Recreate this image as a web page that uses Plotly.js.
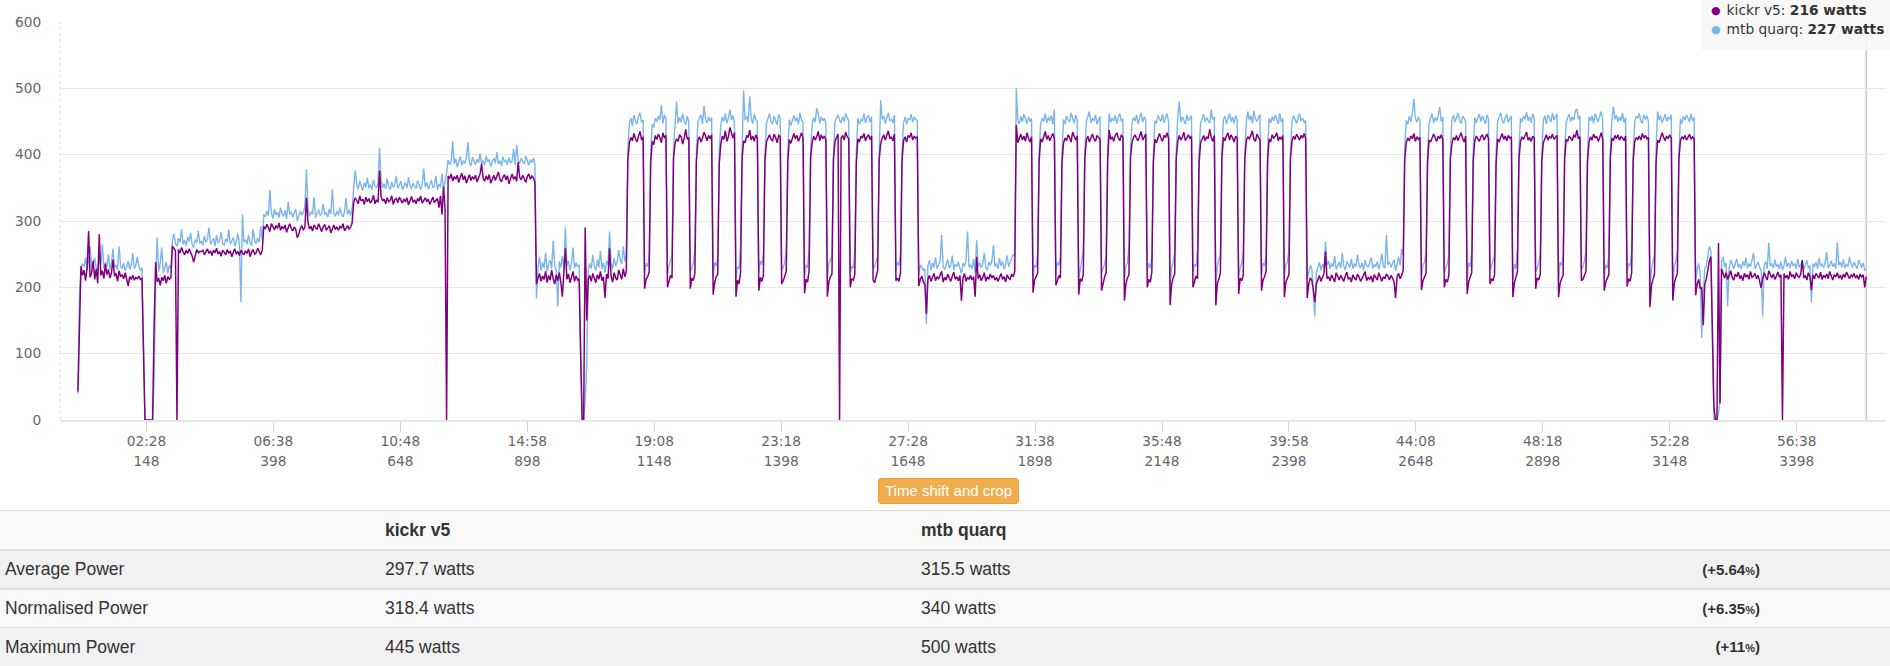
<!DOCTYPE html>
<html>
<head>
<meta charset="utf-8">
<script src="https://cdn.plot.ly/plotly-3.0.1.min.js"></script>
<style>
html,body{margin:0;padding:0;background:#fff;width:1890px;height:666px;overflow:hidden;font-family:"Liberation Sans",Arial,Helvetica,sans-serif;color:#333;}
#chart{position:absolute;left:0;top:0;width:1890px;height:475px;}
#tip{position:absolute;left:1701px;top:-3px;width:200px;height:53px;background:rgba(247,247,247,0.85);font-family:"DejaVu Sans",sans-serif;font-size:13.75px;color:#333;line-height:18.3px;padding-top:4px;box-sizing:border-box;white-space:nowrap;}
#tip .ln{padding-left:10px;}
#tip .dot{font-size:11px;margin-right:6px;vertical-align:1px;}
#btn{position:absolute;left:878px;top:478px;width:141px;height:26px;box-sizing:border-box;background:#f0ad4e;border:1px solid #eea236;border-radius:3px;color:#fff;font-size:15px;line-height:24px;text-align:center;}
.row{position:absolute;left:0;width:1890px;box-sizing:border-box;}
.cell{position:absolute;top:0;white-space:nowrap;font-size:17.5px;}
.diff{position:absolute;top:0;right:130px;font-size:15px;font-weight:bold;white-space:nowrap;}
.diff small{font-size:11px;}
</style>
</head>
<body>
<div id="chart"></div>
<div id="tip"></div>
<div id="btn">Time shift and crop</div>
<div id="stats"></div>
<script>
// ---- sampling of the ride (seconds) ----
const START_SEC = 13;
const STEP_SEC = 3;

// ---- x axis tick labels ----
const tickSeconds = [148, 398, 648, 898, 1148, 1398, 1648, 1898, 2148, 2398, 2648, 2898, 3148, 3398];
const tickClock = ["02:28","06:38","10:48","14:58","19:08","23:18","27:28","31:38","35:48","39:58","44:08","48:18","52:28","56:38"];

// ---- kickr v5 power (watts) ----
const kickrWarmup = [
43,122,232,218,226,210,230,285,215,222,
240,212,228,206,280,218,225,213,235,219,
227,214,222,242,217,221,209,225,216,219,
213,222,214,202,216,212,218,211,215,213,
217,212,214,105,0,0,0,0,0,0,
140,238,208,214,203,215,210,218,206,216,
212,215];
const kickrStep255 = [
262,258,255,0,257,252,260,254,249,256,
251,258,253,247,238,250,257,252,254,254,
256,249,253,258,251,255,248,256,252,259,
250,254,247,256,253,249,257,251,255,246,
253,258,250,254,248,256,252,249,255,251,
258,246,253,257,250,252,259,254,249,256];
const kickrStep290 = [
292,288,295,290,284,296,291,287,293,289,
297,286,292,288,294,283,290,296,289,285,
291,287,275,280,289,293,286,291,335,298,
288,292,285,294,290,287,296,289,284,291,
295,286,290,293,282,289,294,287,291,286,
292,289,296,285,290,293,288,291,297];
const kickrStep330 = [
328,335,331,326,338,330,333,325,336,329,
334,327,331,339,326,332,328,376,337,330,
333,326,335,329,331,338,325,332,334,328,
336,330,327,333,329,335,324,331,337,328,
332,326,334,330,338,327,331,335,329,333,
325,332,336,328,331,334,320,338,310,352,
318];
const kickrStep370 = [
0,368,364,371,360,367,363,369,358,366,
372,362,368,357,365,370,361,367,363,369,
359,366,371,386,364,360,368,362,370,357,
365,369,361,367,374,363,359,366,370,362,
368,356,365,371,363,367,360,389,366,362,
369,364,358,367,371,363,368,365,358];
const kickrRecovery = [
205,214,221,209,217,212,224,207,218,211,
226,213,205,219,210,222,208,186,216,259,
212,220,207,215,224,209,217,211,213,100,
0,0,290,150,212,218,209,221,214,207,
219,212,224,210,216,184,220,213,259,217,
208,222,214,211,226,218,212,228,216,224];
const kickrSet1 = [
392,418,426,421,432,424,419,428,435,422,427,198,212,216,223,
388,420,415,429,423,431,426,418,433,425,429,200,209,218,214,
395,417,424,420,430,427,416,425,438,423,426,198,214,210,221,
390,422,427,419,425,434,428,421,429,424,430,189,207,216,219,
386,415,428,423,436,420,427,441,431,425,433,186,211,205,222,
394,421,418,429,426,437,422,428,420,430,424,195,215,209,218,
391,419,425,430,423,421,431,426,418,429,427,205,210,217,224,
389,423,417,426,432,424,429,420,427,433,425,191,212,208,226,
396,418,428,422,427,435,421,430,424,428,422,186,209,216,220,
393,420,426,431,0,425,429,422,434,427,424,200,213,211,219,
387,424,419,428,425,432,421,427,430,423,428,211,207,216,225,
392,417,425,430,422,428,436,424,427,421,431,210,214,209,222,
390,421,427,419,429,426,433,422,428,425,427,202,212,217,208];
const kickrGap1 = [
205,160,212,218,209,215,221,210,216,213,
219,224,208,215,211,220,214,209,217,223,
212,216,210,218,180,214,221,209,215,212,
218,211,216,186,246,213,219,210,215,222,
209,216,212,220,214,218,211,215,209,217,
221,212,216,208,219,214,212,220,216,224];
const kickrSet2 = [
445,418,426,431,422,428,420,433,425,419,427,192,211,215,221,
390,424,419,428,435,423,429,421,426,432,424,203,210,218,214,
388,417,425,421,430,426,419,434,427,422,428,189,213,209,220,
394,422,428,419,425,431,424,420,429,426,423,195,208,216,222,
391,437,423,427,420,429,433,425,421,430,426,180,206,214,219,
396,419,426,430,424,421,428,435,422,427,431,200,212,208,223,
389,423,418,427,432,425,420,429,426,433,424,173,204,215,220,
393,420,429,422,426,434,421,427,430,424,428,200,209,217,213,
387,418,425,429,421,427,424,438,426,420,429,173,206,212,222,
395,426,421,428,433,422,430,425,419,428,425,190,214,210,218,
392,421,427,424,429,436,423,420,431,426,422,195,211,216,224,
390,424,419,430,425,428,433,421,427,423,429,185,208,213,219,
394,420,428,423,431,426,422,429,425,432,424,184,205,214,211];
const kickrGap2 = [
196,178,205,212,218,209,215,221,254,213,
216,210,219,214,208,222,215,211,218,213,
209,217,223,212,215,208,219,214,211,220,
216,209,213,218,224,210,215,212,217,208,
219,214,211,222,215,209,216,213,220,217,
211,218,214,209,184,216,221,213,218,226];
const kickrSet3 = [
392,418,425,421,428,424,432,420,427,423,426,196,210,215,221,
388,422,419,427,431,425,420,428,424,430,423,200,212,208,218,
395,417,426,422,429,421,427,433,425,419,428,190,209,216,222,
391,421,428,424,420,427,430,422,426,431,424,205,213,210,219,
386,424,419,426,432,423,428,421,429,425,427,185,207,215,223,
393,420,427,423,429,434,422,426,420,428,425,198,214,211,220,
390,418,424,430,422,427,425,431,423,426,429,185,206,213,218,
394,423,420,428,425,421,430,426,437,424,427,210,212,217,224,
389,419,427,422,431,425,428,420,426,433,423,195,208,214,219,
396,425,421,429,424,430,422,427,425,421,428,201,213,209,222,
391,420,426,423,428,422,432,425,429,424,426,170,203,212,220,
387,422,418,427,433,426,421,428,424,430,425,180,207,215,221,
393,421,427,424,429,422,426,431,423,427,424,188,205,212,198];
const kickrCooldown = [
200,143,205,212,225,240,246,120,20,0,
0,267,25,228,219,214,222,212,218,225,
215,211,220,216,223,213,218,210,221,216,
219,212,224,215,217,221,213,218,209,199,
214,222,216,211,225,218,214,220,212,217,
223,215,219,0,221,214,218,212,224,216,
219,213,222,217,215,220,241,214,218,211,
222,216,196,219,213,221,217,214,223,212,
218,215,220,213,224,217,211,219,216,222,
214,218,212,220,215,223,217,213,219,216,
221,214,218,212,220,215,219,200,216];

// ---- mtb quarq power (watts) ----
const quarqWarmup = [
40,190,228,236,231,245,226,238,262,229,
236,244,230,225,248,234,265,229,238,231,
250,227,236,258,230,234,226,262,232,228,
237,225,231,240,227,234,252,228,233,246,
231,226,229,120,0,0,0,0,0,0,
60,205,275,224,236,260,222,230,238,221,
233,228];
const quarqStep255 = [
270,281,266,262,274,268,288,265,271,263,
276,269,282,264,260,272,267,285,266,270,
263,278,268,272,290,265,269,274,262,279,
267,271,283,266,264,273,268,287,265,270,
275,262,269,281,266,178,310,268,272,265,
279,267,263,288,270,266,274,268,292,271];
const quarqStep290 = [
310,306,315,308,347,312,304,318,309,313,
305,320,311,307,316,303,329,310,314,306,
312,318,300,308,315,309,313,322,378,318,
307,314,310,336,305,312,317,308,311,326,
309,313,306,318,310,348,312,307,315,309,
320,311,306,314,335,310,317,308,318];
const quarqStep330 = [
350,376,355,348,360,352,346,358,351,365,
349,355,347,362,353,350,357,410,362,350,
356,348,364,352,347,359,351,355,368,349,
354,360,347,352,358,350,366,353,348,357,
352,349,361,354,347,356,379,351,358,348,
355,362,350,353,368,347,356,351,372,345,
360];
const quarqStep370 = [
372,392,385,390,420,386,394,381,389,397,
384,391,387,395,419,388,383,396,390,385,
393,388,402,386,391,384,398,389,393,382,
390,395,387,404,386,391,383,397,389,392,
385,396,388,390,409,384,415,391,387,395,
389,386,398,390,384,393,388,395,385];
const quarqRecovery = [
183,230,246,225,238,229,252,224,235,241,
228,270,233,226,171,239,230,247,227,290,
232,240,226,236,260,229,237,231,234,120,
0,0,30,80,226,236,228,249,231,225,
242,230,255,228,237,222,240,233,284,236,
227,244,232,238,256,241,235,262,239,248];
const quarqSet1 = [
405,448,455,443,460,451,446,458,463,449,452,222,236,231,252,
402,446,441,455,450,458,452,475,447,460,454,219,233,240,248,
410,452,480,447,456,449,462,451,445,458,450,224,229,237,258,
398,449,455,460,446,474,453,448,457,451,456,216,238,232,246,
404,444,457,450,462,447,455,468,452,459,448,214,231,228,262,
408,497,452,458,449,488,455,447,461,453,450,221,240,234,251,
401,447,455,462,450,446,458,452,445,461,454,226,230,238,256,
403,453,444,451,459,450,456,446,463,452,449,218,234,229,260,
407,446,456,449,470,461,447,457,451,455,446,215,236,241,249,
399,450,454,460,452,448,457,450,462,455,451,222,232,228,255,
405,455,446,453,451,462,448,456,459,449,457,228,231,239,247,
402,482,453,458,447,455,463,451,454,448,460,225,238,233,252,
406,448,457,446,455,452,461,449,456,453,451,219,234,230,226];
const quarqGap1 = [
228,145,233,241,226,237,230,245,228,234,
239,279,231,227,236,242,229,233,248,226,
235,231,238,227,220,236,232,240,284,230,
234,228,243,222,271,231,237,229,235,252,
230,226,238,233,240,264,231,236,228,244,
232,239,227,235,248,231,238,242,250,246];
const quarqSet2 = [
500,452,446,458,449,461,453,447,457,450,455,216,234,230,251,
404,447,455,450,462,448,456,451,459,446,468,220,238,233,248,
401,453,446,458,452,449,463,455,447,460,451,214,231,240,256,
407,450,457,465,448,455,451,460,446,453,458,222,229,235,249,
403,462,449,455,451,459,447,456,462,450,454,209,233,237,262,
409,448,456,451,460,446,455,463,449,457,452,225,236,229,247,
400,451,447,459,454,450,461,448,456,462,449,205,230,238,253,
405,456,480,449,457,452,446,460,451,455,459,223,235,231,258,
402,447,454,461,449,456,451,448,468,453,457,206,232,240,250,
408,453,458,446,455,462,450,457,447,459,452,218,229,236,254,
401,449,465,452,459,447,466,454,450,456,461,220,237,232,249,
406,455,448,457,451,460,453,446,462,449,455,217,234,239,257,
403,450,459,453,447,456,462,451,455,448,452,212,226,233,229];
const quarqGap2 = [
194,156,222,230,238,226,235,229,269,233,
240,228,236,231,247,227,234,238,229,252,
232,226,239,235,230,243,228,236,231,249,
234,229,237,226,241,233,230,238,245,228,
235,231,239,227,236,251,232,229,279,234,
238,230,236,242,225,237,246,233,258,249];
const quarqSet3 = [
408,452,446,458,450,461,484,455,449,457,451,218,233,238,252,
404,447,455,462,448,456,451,459,472,450,457,222,230,236,249,
401,453,460,449,457,463,452,447,458,455,450,214,237,231,257,
407,456,448,455,461,450,458,453,446,460,454,225,232,239,248,
403,450,457,463,452,447,456,461,449,454,458,210,235,228,260,
409,455,449,458,453,464,451,457,448,462,455,223,229,236,251,
402,451,459,446,460,455,449,463,452,457,461,209,238,233,247,
406,448,456,461,450,457,452,466,469,453,459,227,231,240,255,
400,457,451,459,447,462,455,449,458,465,452,216,234,229,250,
405,452,472,453,460,449,457,451,463,448,456,221,236,232,258,
403,449,458,455,462,451,447,460,453,459,450,196,228,237,249,
407,465,452,459,448,456,461,450,457,453,460,208,233,239,253,
402,454,447,458,452,460,455,449,462,451,456,210,228,236,220];
const quarqCooldown = [
124,190,228,233,248,262,255,150,0,0,
0,10,30,238,246,231,237,171,229,241,
233,228,236,243,230,235,227,239,232,245,
229,236,231,240,252,228,234,238,230,226,
156,233,239,228,267,232,236,229,242,231,
235,228,239,226,233,246,231,237,229,240,
232,236,228,243,230,234,239,227,235,241,
229,233,178,236,231,238,228,244,232,235,
230,237,253,229,234,240,231,236,228,267,
233,238,230,242,229,235,231,246,236,230,
238,232,228,241,234,230,237,226,227];

// ---- comparison table ----
const deviceNames = ["kickr v5", "mtb quarq"];
const statLabels = ["Average Power", "Normalised Power", "Maximum Power"];
const kickrStats = ["297.7 watts", "318.4 watts", "445 watts"];
const quarqStats = ["315.5 watts", "340 watts", "500 watts"];
const statDiffs = ["+5.64", "+6.35", "+11"];

const kickr = [].concat(kickrWarmup, kickrStep255, kickrStep290, kickrStep330, kickrStep370, kickrRecovery,
  kickrSet1, kickrGap1, kickrSet2, kickrGap2, kickrSet3, kickrCooldown);
const quarq = [].concat(quarqWarmup, quarqStep255, quarqStep290, quarqStep330, quarqStep370, quarqRecovery,
  quarqSet1, quarqGap1, quarqSet2, quarqGap2, quarqSet3, quarqCooldown);
const secs = kickr.map((_, i) => START_SEC + STEP_SEC * i);
const lastSec = secs[secs.length - 1];

const KICKR_COLOR = "#800080";
const QUARQ_COLOR = "#7cb5ec";
const FONT = "DejaVu Sans, sans-serif";
const xRange = [-22.35, 3573.9];

const traces = [
  {type: "scatter", mode: "lines", name: "mtb quarq", x: secs, y: quarq, xaxis: "x", yaxis: "y",
   line: {color: QUARQ_COLOR, width: 1.4}, hoverinfo: "skip"},
  {type: "scatter", mode: "lines", name: "kickr v5", x: secs, y: kickr, xaxis: "x2", yaxis: "y",
   line: {color: KICKR_COLOR, width: 1.5}, hoverinfo: "skip"}
];

const layout = {
  width: 1890, height: 475,
  margin: {l: 60, r: 4, t: 22, b: 55},
  paper_bgcolor: "#ffffff", plot_bgcolor: "#ffffff",
  showlegend: false,
  font: {family: FONT, size: 13.75, color: "#666666"},
  xaxis: {
    range: xRange, tickmode: "array", tickvals: tickSeconds, ticktext: tickClock,
    ticks: "outside", ticklen: 10, tickwidth: 1, tickcolor: "#ccd6eb", ticklabelstandoff: -3,
    showgrid: false, zeroline: false, showline: true, linecolor: "#e6e6e6", linewidth: 2,
    tickfont: {family: FONT, size: 13.75, color: "#666666"}, fixedrange: true
  },
  xaxis2: {
    overlaying: "x", anchor: "y", side: "bottom",
    range: xRange, tickmode: "array", tickvals: tickSeconds, ticktext: tickSeconds.map(String),
    ticks: "outside", ticklen: 31, tickcolor: "rgba(0,0,0,0)", ticklabelstandoff: -3,
    showgrid: false, zeroline: false, showline: false,
    tickfont: {family: FONT, size: 13.75, color: "#666666"}, fixedrange: true
  },
  yaxis: {
    range: [0, 600], tickmode: "array", tickvals: [0, 100, 200, 300, 400, 500, 600],
    ticks: "outside", ticklen: 15, tickcolor: "rgba(0,0,0,0)",
    showgrid: true, gridcolor: "#e6e6e6", gridwidth: 1, zeroline: false, showline: false,
    tickfont: {family: FONT, size: 13.75, color: "#666666"}, fixedrange: true
  },
  shapes: [
    {type: "line", xref: "paper", yref: "paper", x0: 0, x1: 0, y0: 0, y1: 1,
     line: {color: "#cfdcec", width: 1, dash: "dot"}, layer: "below"},
    {type: "line", xref: "x", yref: "paper", x0: lastSec, x1: lastSec, y0: 0, y1: 1,
     line: {color: "#cccccc", width: 1.5}, layer: "below"}
  ]
};

Plotly.newPlot("chart", traces, layout, {staticPlot: true, displayModeBar: false});

// ---- hover tooltip (values of the last sample) ----
const tip = document.getElementById("tip");
const tipRows = [[deviceNames[0], kickr[kickr.length - 1], KICKR_COLOR], [deviceNames[1], quarq[quarq.length - 1], QUARQ_COLOR]];
tip.innerHTML = tipRows.map(r =>
  '<div class="ln"><span class="dot" style="color:' + r[2] + '">\u25CF</span>' + r[0] + ': <b>' + r[1] + ' watts</b></div>'
).join("");

// ---- stats table ----
const stats = document.getElementById("stats");
const rowDefs = [
  {top: 510, h: 39, bg: "#f9f9f9", border: "1px solid #dddddd", cells: ["", deviceNames[0], deviceNames[1]], head: true, diff: null},
  {top: 549, h: 39, bg: "#f1f1f1", border: "2px solid #dddddd", cells: [statLabels[0], kickrStats[0], quarqStats[0]], diff: statDiffs[0]},
  {top: 588, h: 39, bg: "#f9f9f9", border: "2px solid #dddddd", cells: [statLabels[1], kickrStats[1], quarqStats[1]], diff: statDiffs[1]},
  {top: 627, h: 39, bg: "#f1f1f1", border: "1px solid #dddddd", cells: [statLabels[2], kickrStats[2], quarqStats[2]], diff: statDiffs[2]}
];
const cellLeft = [5, 385, 921];
rowDefs.forEach(r => {
  const row = document.createElement("div");
  row.className = "row";
  row.style.top = r.top + "px";
  row.style.height = r.h + "px";
  row.style.background = r.bg;
  row.style.borderTop = r.border;
  const lh = (r.h - parseInt(r.border)) + "px";
  r.cells.forEach((c, j) => {
    const s = document.createElement("span");
    s.className = "cell";
    s.style.left = cellLeft[j] + "px";
    s.style.lineHeight = lh;
    if (r.head) s.style.fontWeight = "bold";
    s.textContent = c;
    row.appendChild(s);
  });
  if (r.diff) {
    const d = document.createElement("span");
    d.className = "diff";
    d.style.lineHeight = lh;
    d.innerHTML = "(" + r.diff + "<small>%</small>)";
    row.appendChild(d);
  }
  stats.appendChild(row);
});
</script>
</body>
</html>
